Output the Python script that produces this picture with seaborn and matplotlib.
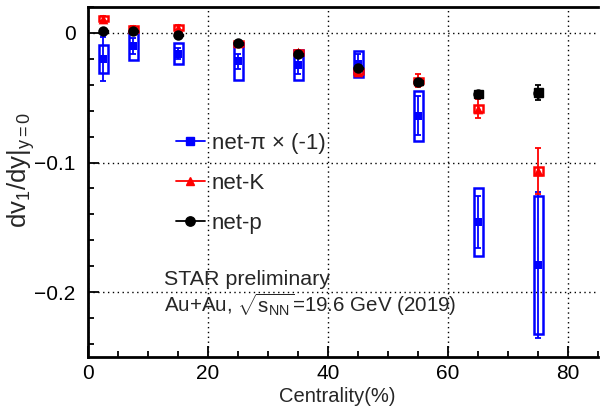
import numpy as np
import pandas as pd
import matplotlib
matplotlib.use("Agg")
import matplotlib.pyplot as plt
from matplotlib.patches import Rectangle
from matplotlib.lines import Line2D
from matplotlib.ticker import MultipleLocator, FixedLocator
import seaborn as sns

# ---- data ----
centrality = [2.5, 7.5, 15, 25, 35, 45, 55, 65, 75]

pi_val  = [-0.020, -0.010, -0.016, -0.022, -0.025, -0.024, -0.064, -0.146, -0.179]
pi_stat = [0.017, 0.006, 0.004, 0.006, 0.007, 0.008, 0.015, 0.020, 0.056]
pi_sys  = [0.011, 0.011, 0.008, 0.014, 0.0115, 0.010, 0.019, 0.026, 0.053]

k_val  = [0.011, 0.003, 0.004, -0.008, -0.015, -0.030, -0.037, -0.0585, -0.1066]
k_stat = [0.002, 0.002, 0.002, 0.002, 0.002, 0.002, 0.005, 0.0075, 0.0175]
k_sys  = [0.002, 0.002, 0.002, 0.002, 0.002, 0.002, 0.002, 0.0028, 0.003]

p_val  = [0.0015, 0.0015, -0.0015, -0.008, -0.0165, -0.027, -0.038, -0.047, -0.046]
p_stat = [0.001, 0.001, 0.001, 0.001, 0.001, 0.001, 0.002, 0.002, 0.0058]
p_sys  = [0.001, 0.001, 0.001, 0.001, 0.001, 0.001, 0.002, 0.003, 0.0036]

labels = ["net-\u03c0 \u00d7 (-1)", "net-K", "net-p"]
colors = ["#0000ff", "#ff0000", "#000000"]
markers = ["s", "^", "o"]
msizes = [6, 7, 7.5]

sns.set_theme(style="ticks")
plt.rcParams["font.family"] = ["Liberation Sans", "DejaVu Sans"]
plt.rcParams["mathtext.fontset"] = "custom"
plt.rcParams["mathtext.rm"] = "Liberation Sans"
plt.rcParams["mathtext.it"] = "Liberation Sans:italic"
plt.rcParams["mathtext.sf"] = "Liberation Sans"

fig = plt.figure(figsize=(6.0, 4.07), dpi=100)
ax = fig.add_axes([88/600, 1-357/407, (598-88)/600, (357-7)/407])

series = [
    (pi_val, pi_stat, pi_sys),
    (k_val, k_stat, k_sys),
    (p_val, p_stat, p_sys),
]
box_w = 1.5
for i, ((val, st, sy), c, m, ms, lab) in enumerate(zip(series, colors, markers, msizes, labels)):
    z = 3 + i
    for x, v, s in zip(centrality, val, sy):
        if i == 2:
            ax.add_patch(Rectangle((x - box_w/2, v - s), box_w, 2*s, facecolor=c,
                                   edgecolor=c, linewidth=1.0, zorder=z))
        else:
            ax.add_patch(Rectangle((x - box_w/2, v - s), box_w, 2*s, facecolor="none",
                                   edgecolor=c, linewidth=1.8, zorder=z))
    ax.errorbar(centrality, val, yerr=st, fmt="none", ecolor=c, elinewidth=1.3,
                capsize=2.5, capthick=1.3, zorder=z)
    df = pd.DataFrame({"x": centrality, "y": val})
    sns.scatterplot(data=df, x="x", y="y", ax=ax, color=c, marker=m,
                    s=ms**2, edgecolor=c, linewidth=0, zorder=z + 0.5, legend=False)

ax.set_xlim(0, 85)
ax.set_ylim(-0.25, 0.02)
ax.xaxis.set_major_locator(FixedLocator([0, 20, 40, 60, 80]))
ax.xaxis.set_minor_locator(MultipleLocator(5))
ax.yaxis.set_major_locator(FixedLocator([-0.2, -0.1, 0.0]))
ax.yaxis.set_minor_locator(MultipleLocator(0.02))
ax.set_yticklabels(["\u22120.2", "\u22120.1", "0"])
ax.set_xticklabels(["0", "20", "40", "60", "80"])
ax.grid(True, which="major", linestyle=(0, (1, 2.5)), color="black", linewidth=1.0)
ax.set_axisbelow(True)
ax.tick_params(which="both", direction="in", top=False, right=False, colors="black",
               labelsize=15)
ax.tick_params(which="major", length=8, width=1.3)
ax.tick_params(which="minor", length=4.5, width=1.3)
ax.tick_params(axis="x", pad=5)
ax.tick_params(axis="y", pad=9)
for side in ["left", "bottom", "top"]:
    ax.spines[side].set_linewidth(2.0)
    ax.spines[side].set_color("black")
ax.spines["right"].set_visible(False)
ax.set_xlabel("")
ax.set_ylabel("")

fig.text(337/600, 1-397/407, "Centrality(%)", ha="center", va="center", fontsize=14.5)
fig.text(21/600, 1-170/407, r"dv$_{\mathrm{1}}$/dy|$_{\mathrm{y=0}}$", ha="center", va="center",
         rotation=90, fontsize=18.5)

handles = [Line2D([0], [0], color=c, marker=m, markersize=ms*0.9, linewidth=1.3)
           for c, m, ms in zip(colors, markers, msizes)]
leg = ax.legend(handles, labels, loc="upper left", bbox_to_anchor=((176-88)/510, 1-(133-7)/350),
                frameon=False, fontsize=16, handlelength=1.3, handletextpad=0.3,
                labelspacing=0.85, borderaxespad=0, borderpad=0)

ax.text((164-88)/510, (357-285)/350, "STAR preliminary", transform=ax.transAxes,
        fontsize=15.4, ha="left", va="baseline")
ax.text((164-88)/510, (357-312)/350, r"Au+Au, $\sqrt{\mathrm{s}_{\mathrm{NN}}}$=19.6 GeV (2019)",
        transform=ax.transAxes, fontsize=14.8, ha="left", va="baseline")

fig.savefig("out.png", dpi=100)
